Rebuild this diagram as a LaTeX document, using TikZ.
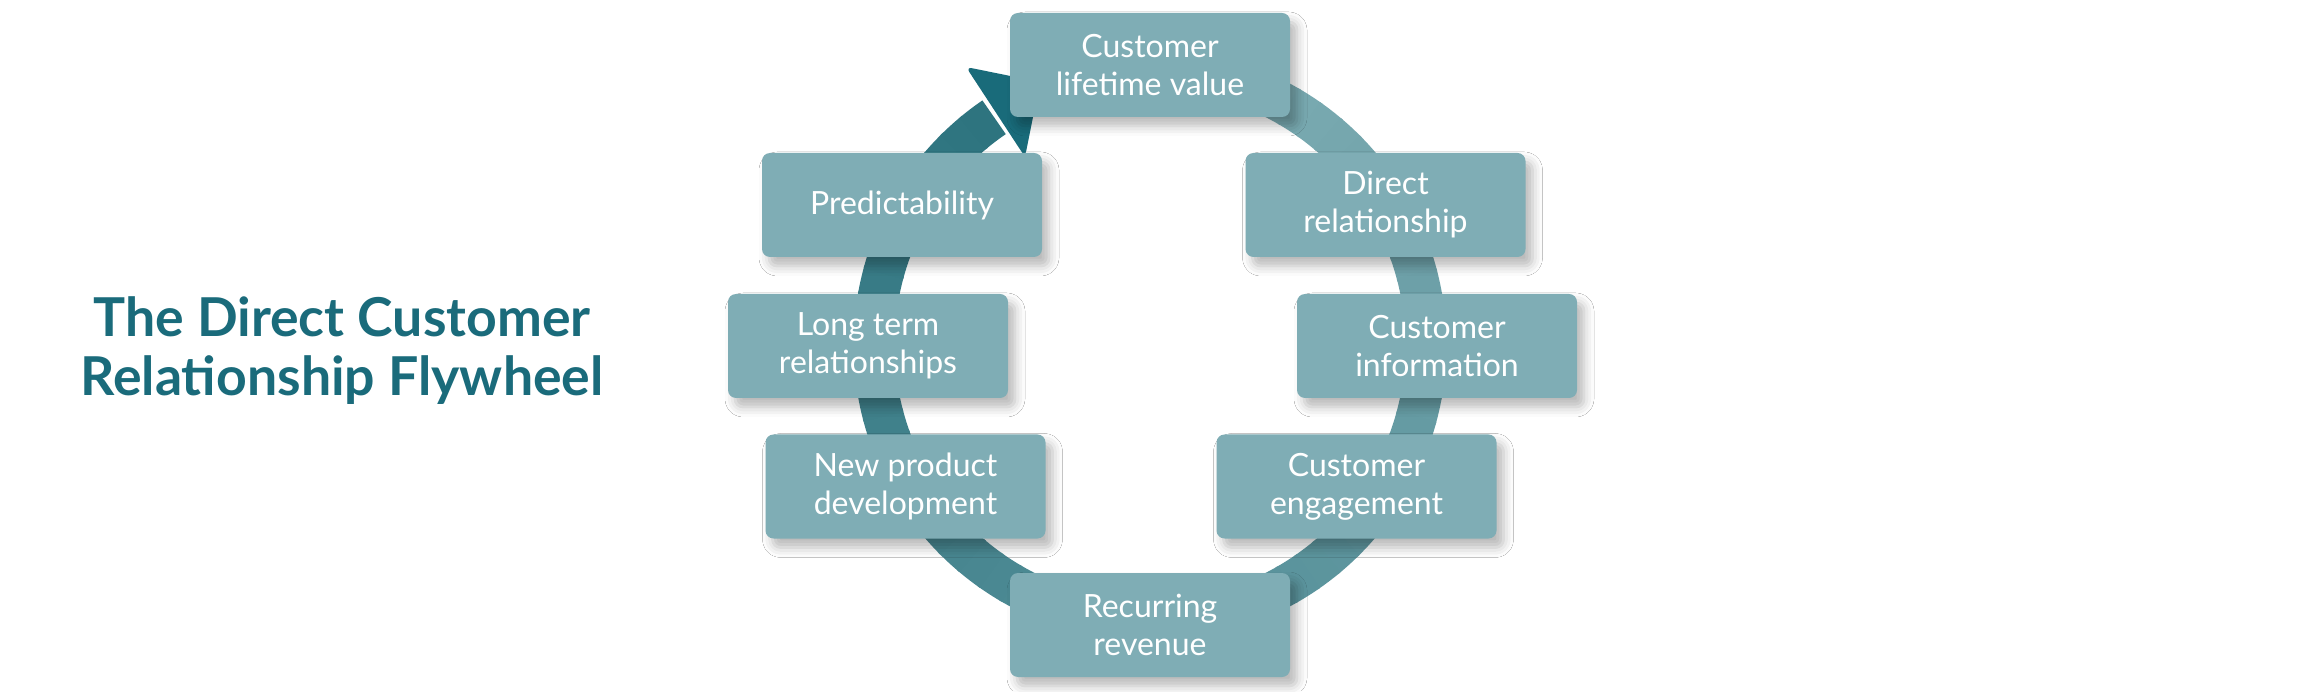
\documentclass[tikz,border=0pt]{standalone}
\usepackage{fontspec}
\setmainfont{Lato}
\usetikzlibrary{shadows.blur}
\definecolor{boxc}{RGB}{127,173,181}
\definecolor{titlec}{RGB}{26,107,123}
\definecolor{arrowc}{RGB}{25,107,122}
\definecolor{ringlight}{RGB}{128,174,181}
\definecolor{ringdark}{RGB}{46,116,127}
\tikzset{
  stepbox/.style={fill=boxc, rounded corners=4pt, minimum width=140pt, minimum height=52pt,
    text=white, align=center, font=\fontsize{16}{19}\selectfont,
    blur shadow={shadow xshift=3.5pt, shadow yshift=-4.5pt, shadow blur radius=5pt, shadow opacity=28}},
  titlebox/.style={text=titlec, align=center, font=\fontsize{26.8}{29.5}\selectfont\bfseries}
}
\begin{document}
\begin{tikzpicture}[x=0.5pt,y=0.5pt]
\useasboundingbox (0,0) rectangle (2305,691);
\fill[white] (0,0) rectangle (2305,691);
\coordinate (C) at (1150,346);
% ring with gradient
\foreach \i in {0,...,64} {
  \pgfmathsetmacro\a{90-\i*5}
  \pgfmathsetmacro\b{\a-5.6}
  \pgfmathsetmacro\p{\i/64*100}
  \colorlet{segc}{ringdark!\p!ringlight}
  \draw[segc, line width=20.5pt] (C) ++(\a:138pt) arc[start angle=\a, end angle=\b, radius=138pt];
}
% arrow head
\fill[arrowc, rounded corners=3pt] (966,624) -- (1040,609) -- (1025,534) -- cycle;
% boxes
\node[stepbox] (clv) at (1150,626) {Customer\\lifetime value};
\node[stepbox] (dr) at (1385.5,486) {Direct\\relationship};
\node[stepbox] (ci) at (1437,345) {Customer\\information};
\node[stepbox] (ce) at (1356.5,204.5) {Customer\\engagement};
\node[stepbox] (rr) at (1150,66) {Recurring\\revenue};
\node[stepbox] (npd) at (905.5,204.5) {New product\\development};
\node[stepbox] (lt) at (868,345) {Long term\\relationships};
\node[stepbox] (pr) at (902,486) {Predictability};
% title
\node[titlebox] (title) at (342,340) {The Direct Customer\\Relationship Flywheel};
\end{tikzpicture}
\end{document}
